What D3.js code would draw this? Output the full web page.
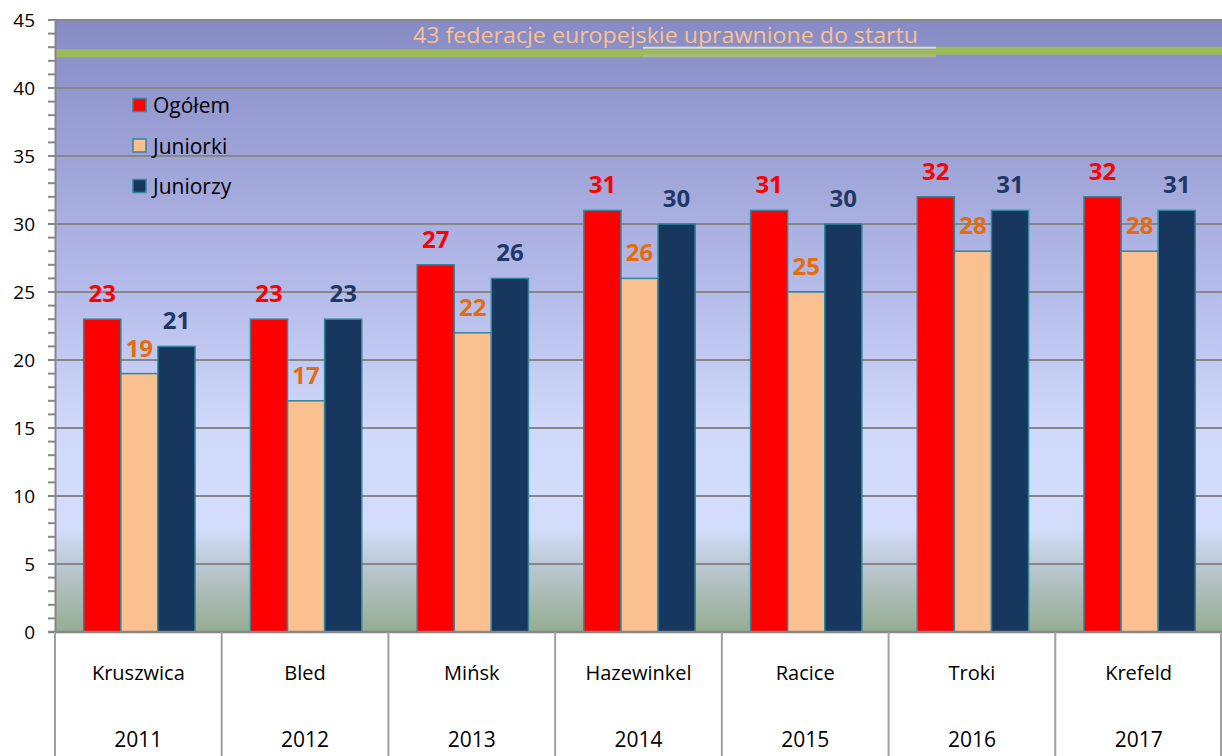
<!DOCTYPE html>
<html><head><meta charset="utf-8">
<script src="https://cdn.jsdelivr.net/npm/d3@7"></script>
<style>body{margin:0;background:#fff}svg{display:block}</style>
</head><body>
<svg id="c" width="1222" height="756"></svg>
<script>
const cities = ["Kruszwica","Bled","Mińsk","Hazewinkel","Racice","Troki","Krefeld"];
const years = ["2011","2012","2013","2014","2015","2016","2017"];
const series = ["Ogółem","Juniorki","Juniorzy"];
const ogolem = [23,23,27,31,31,32,32];
const juniorki = [19,17,22,26,25,28,28];
const juniorzy = [21,23,26,30,30,31,31];
const yTicks = [0,5,10,15,20,25,30,35,40,45];
const refValue = 43;
const refLabel = "43 federacje europejskie uprawnione do startu";

const fills = ["#FF0000","#FAC090","#17375E"];
const labelColors = ["#FF0000","#E46C0A","#1F3864"];
const values = [ogolem, juniorki, juniorzy];

const svg = d3.select("#c");
const L = 55, R = 1222, T = 20, B = 632;
const font = "'Open Sans', 'Noto Sans', sans-serif";

const y = d3.scaleLinear().domain([0,45]).range([B,T]);
const x = d3.scaleBand().domain(cities).range([L,R]).padding(0);
const xs = d3.scaleBand().domain(series).range([2,x.bandwidth()]).paddingInner(0).paddingOuter(0.72);

// background gradient
const defs = svg.append("defs");
const g = defs.append("linearGradient").attr("id","bg").attr("x1",0).attr("y1",0).attr("x2",0).attr("y2",1);
[[0,"#868BC5"],[0.45,"#B6BCEA"],[0.66,"#CFD8F9"],[0.83,"#D3DDFB"],[0.9,"#B8C5CD"],[1,"#95AC91"]]
  .forEach(([o,c])=>g.append("stop").attr("offset",o).attr("stop-color",c));
svg.append("rect").attr("x",L).attr("y",T).attr("width",R-L).attr("height",B-T).attr("fill","url(#bg)");

// gridlines
svg.append("g").selectAll("line").data(yTicks.filter(d=>d>0)).join("line")
  .attr("x1",L).attr("x2",R).attr("y1",d=>y(d)).attr("y2",d=>y(d))
  .attr("stroke","#878787").attr("stroke-width",2);

// reference line
const ry = y(refValue);
svg.append("rect").attr("x",L).attr("width",936-L).attr("y",ry+2).attr("height",8).attr("fill","#9BBB59");
svg.append("rect").attr("x",643).attr("width",936-643).attr("y",ry+7).attr("height",3).attr("fill","#AABB85");
svg.append("rect").attr("x",643).attr("width",936-643).attr("y",ry-0.5).attr("height",2).attr("fill","#D9E2C8");
svg.append("rect").attr("x",936).attr("width",R-936).attr("y",ry-0.5).attr("height",8).attr("fill","#9BBB59");
svg.append("text").attr("x",(413+918)/2).attr("y",ry-4).attr("text-anchor","middle")
  .attr("font-family","'Liberation Sans Narrow', 'Open Sans', sans-serif").attr("font-size",21)
  .attr("fill","#FAC090").attr("textLength",505).attr("lengthAdjust","spacingAndGlyphs").text(refLabel);

// y axis
const yAxis = d3.axisLeft(y).tickValues(yTicks).tickSize(0).tickPadding(10);
const ya = svg.append("g").attr("transform",`translate(${L},0)`).call(yAxis);
ya.select(".domain").attr("stroke","#878787").attr("stroke-width",2);
ya.selectAll("text").attr("font-family",font).attr("font-size",19).attr("fill","#000").attr("x",-20);
// minor ticks
svg.append("g").selectAll("line").data(d3.range(0,46)).join("line")
  .attr("x1",L-7).attr("x2",L).attr("y1",d=>y(d)).attr("y2",d=>y(d))
  .attr("stroke","#878787").attr("stroke-width",2);

// bars
series.forEach((s,si)=>{
  const gg = svg.append("g");
  gg.selectAll("rect").data(cities).join("rect")
    .attr("x",(c)=>x(c)+xs(s)).attr("width",xs.bandwidth())
    .attr("y",(c,i)=>y(values[si][i])).attr("height",(c,i)=>B-y(values[si][i]))
    .attr("fill",fills[si]).attr("stroke","#31859C").attr("stroke-width",1.5);
  gg.selectAll("text").data(cities).join("text")
    .attr("x",(c)=>x(c)+xs(s)+xs.bandwidth()/2).attr("y",(c,i)=>y(values[si][i])-17)
    .attr("text-anchor","middle").attr("font-family",font).attr("font-weight","bold")
    .attr("font-size",24).attr("fill",labelColors[si]).text((c,i)=>values[si][i]);
});

// x axis line
svg.append("line").attr("x1",L-7).attr("x2",R).attr("y1",B).attr("y2",B).attr("stroke","#878787").attr("stroke-width",2.5);
// dividers
const edges = cities.map(c=>x(c)).concat([R-1]);
svg.append("g").selectAll("line").data(edges).join("line")
  .attr("x1",d=>d).attr("x2",d=>d).attr("y1",B).attr("y2",756)
  .attr("stroke","#A0A0A0").attr("stroke-width",2);
// category labels
svg.append("g").selectAll("text").data(cities).join("text")
  .attr("x",c=>x(c)+x.bandwidth()/2).attr("y",680).attr("text-anchor","middle")
  .attr("font-family",font).attr("font-size",20).attr("fill","#000").text(c=>c);
svg.append("g").selectAll("text").data(years).join("text")
  .attr("x",(d,i)=>x(cities[i])+x.bandwidth()/2).attr("y",747).attr("text-anchor","middle")
  .attr("font-family",font).attr("font-size",21).attr("fill","#000").text(d=>d);

// legend
const lg = svg.append("g");
series.forEach((s,i)=>{
  const yy = 105 + i*40.5;
  lg.append("rect").attr("x",133).attr("y",yy-6.5).attr("width",13).attr("height",13)
    .attr("fill",fills[i]).attr("stroke","#31859C").attr("stroke-width",1.5);
  lg.append("text").attr("x",153).attr("y",yy+8).attr("font-family",font).attr("font-size",21)
    .attr("fill","#000").text(s);
});
</script>
</body></html>
